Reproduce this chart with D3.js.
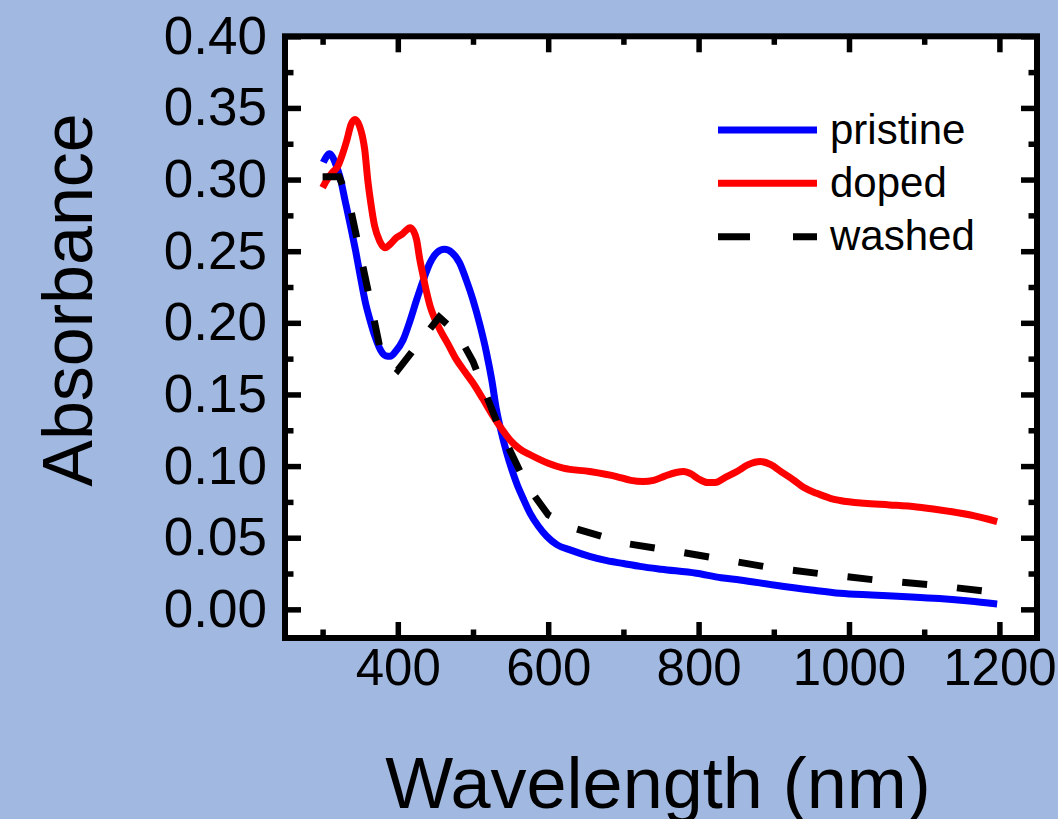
<!DOCTYPE html>
<html>
<head>
<meta charset="utf-8">
<script src="https://cdn.jsdelivr.net/npm/d3@7"></script>
<style>
  html, body { margin: 0; padding: 0; background: #a1b9e1; }
  svg { display: block; }
  text { font-family: "Liberation Sans", Arial, Helvetica, sans-serif; fill: #000; }
</style>
</head>
<body>
<svg id="chart" width="1058" height="819"></svg>
<script>
// UV-Vis-NIR absorbance spectra: wavelength (nm) vs absorbance
const pristineWl = [301, 305, 309, 313, 318, 323, 330, 337, 344, 350, 357, 363, 370, 377, 384, 390, 397, 407, 416, 425, 434, 443, 452, 462, 472, 482, 491, 500, 509, 518, 525, 531, 538, 545, 552, 558, 567, 576, 587, 598, 612, 629, 655, 678, 700, 722, 750, 797, 830, 855, 900, 950, 988, 1030, 1077, 1120, 1160, 1197];
const pristineAbs = [0.312, 0.316, 0.318, 0.316, 0.310, 0.302, 0.285, 0.268, 0.250, 0.233, 0.214, 0.202, 0.190, 0.181, 0.177, 0.1766, 0.180, 0.188, 0.201, 0.216, 0.230, 0.242, 0.249, 0.2513, 0.249, 0.242, 0.230, 0.216, 0.199, 0.179, 0.160, 0.140, 0.123, 0.109, 0.097, 0.088, 0.077, 0.067, 0.058, 0.051, 0.045, 0.0415, 0.037, 0.034, 0.032, 0.030, 0.028, 0.0252, 0.022, 0.0205, 0.017, 0.0135, 0.0112, 0.010, 0.0088, 0.0075, 0.0058, 0.0037];

const dopedWl = [300, 306, 313, 320, 326, 332, 338, 343, 349, 353, 356, 360, 364, 369, 376, 383, 390, 398, 406, 412, 416, 421, 425, 429, 434, 438, 443, 449, 456, 467, 478, 489, 500, 513, 527, 538, 549, 562, 576, 589, 600, 620, 655, 691, 710, 726, 740, 755, 770, 780, 790, 800, 812, 822, 835, 851, 866, 882, 896, 910, 926, 940, 957, 975, 988, 1020, 1054, 1090, 1121, 1160, 1197];
const dopedAbs = [0.2944, 0.300, 0.305, 0.309, 0.317, 0.327, 0.3387, 0.342, 0.3375, 0.330, 0.321, 0.300, 0.284, 0.268, 0.257, 0.2524, 0.255, 0.2594, 0.262, 0.265, 0.2664, 0.264, 0.258, 0.245, 0.232, 0.222, 0.2116, 0.203, 0.1953, 0.185, 0.1743, 0.166, 0.158, 0.147, 0.1347, 0.126, 0.1184, 0.112, 0.1079, 0.1045, 0.102, 0.0986, 0.0962, 0.0927, 0.090, 0.0892, 0.090, 0.093, 0.0955, 0.0962, 0.0945, 0.091, 0.0885, 0.0885, 0.092, 0.0962, 0.101, 0.1032, 0.101, 0.096, 0.0904, 0.085, 0.081, 0.0775, 0.076, 0.074, 0.0729, 0.0715, 0.0694, 0.066, 0.0613];

const washedWl = [300, 322, 335, 362, 378, 400, 455, 480, 500, 535, 571, 600, 631, 702, 770, 836, 886, 960, 1035, 1111, 1200];
const washedAbs = [0.302, 0.302, 0.285, 0.2186, 0.178, 0.167, 0.204, 0.192, 0.173, 0.1265, 0.087, 0.066, 0.0572, 0.0461, 0.0405, 0.0345, 0.030, 0.025, 0.0205, 0.017, 0.0115];

const seriesNames = ["pristine", "doped", "washed"];
const seriesColors = ["#0000ff", "#ff0000", "#000000"];

const xMajorTicks = [400, 600, 800, 1000, 1200];
const xMinorTicks = [300, 500, 700, 900, 1100];
const yMajorTicks = [0.00, 0.05, 0.10, 0.15, 0.20, 0.25, 0.30, 0.35, 0.40];
const yMinorTicks = [0.025, 0.075, 0.125, 0.175, 0.225, 0.275, 0.325, 0.375];

const xTitle = "Wavelength (nm)";
const yTitle = "Absorbance";

// ---- layout ----
const frame = { left: 285, right: 1037, top: 36.3, bottom: 638 };
const svg = d3.select("#chart");

const x = d3.scaleLinear().domain([250, 1250]).range([frame.left, frame.right]);
const y = d3.scaleLinear().domain([-0.02, 0.40]).range([frame.bottom, frame.top]);

// plot background
svg.append("rect")
  .attr("x", frame.left).attr("y", frame.top)
  .attr("width", frame.right - frame.left).attr("height", frame.bottom - frame.top)
  .attr("fill", "#ffffff");

// ---- series ----
const zip = (a, b) => a.map((v, i) => [v, b[i]]);
const smooth = d3.line().x(d => x(d[0])).y(d => y(d[1])).curve(d3.curveMonotoneX);
const straight = d3.line().x(d => x(d[0])).y(d => y(d[1])).curve(d3.curveLinear);

const plot = svg.append("g");
plot.append("path")
  .attr("d", smooth(zip(pristineWl, pristineAbs)))
  .attr("fill", "none").attr("stroke", seriesColors[0])
  .attr("stroke-width", 7).attr("stroke-linejoin", "round");
plot.append("path")
  .attr("d", smooth(zip(dopedWl, dopedAbs)))
  .attr("fill", "none").attr("stroke", seriesColors[1])
  .attr("stroke-width", 7).attr("stroke-linejoin", "round");
plot.append("path")
  .attr("d", straight(zip(washedWl, washedAbs)))
  .attr("fill", "none").attr("stroke", seriesColors[2])
  .attr("stroke-width", 7).attr("stroke-dasharray", "25,30");

// ---- axes (ticks point inward on all four sides) ----
const majorLen = 16, minorLen = 8.5, tickW = 5.5;
function styleAxis(g) {
  g.select(".domain").remove();
  g.selectAll(".tick line").attr("stroke", "#000").attr("stroke-width", tickW);
  g.selectAll("text").style("font-family", "'Liberation Sans', Arial, sans-serif").attr("fill", "#000");
}

svg.append("g").attr("transform", `translate(0,${frame.bottom})`)
  .call(d3.axisBottom(x).tickValues(xMajorTicks).tickSize(-majorLen).tickPadding(11).tickFormat(d3.format("d")))
  .call(styleAxis)
  .call(g => g.selectAll("text").attr("font-size", 51));
svg.append("g").attr("transform", `translate(0,${frame.bottom})`)
  .call(d3.axisBottom(x).tickValues(xMinorTicks).tickSize(-minorLen).tickFormat(""))
  .call(styleAxis);
svg.append("g").attr("transform", `translate(0,${frame.top})`)
  .call(d3.axisTop(x).tickValues(xMajorTicks).tickSize(-majorLen).tickFormat(""))
  .call(styleAxis);
svg.append("g").attr("transform", `translate(0,${frame.top})`)
  .call(d3.axisTop(x).tickValues(xMinorTicks).tickSize(-minorLen).tickFormat(""))
  .call(styleAxis);

svg.append("g").attr("transform", `translate(${frame.left},0)`)
  .call(d3.axisLeft(y).tickValues(yMajorTicks).tickSize(-majorLen).tickPadding(18).tickFormat(d3.format(".2f")))
  .call(styleAxis)
  .call(g => g.selectAll("text").attr("font-size", 53));
svg.append("g").attr("transform", `translate(${frame.left},0)`)
  .call(d3.axisLeft(y).tickValues(yMinorTicks).tickSize(-minorLen).tickFormat(""))
  .call(styleAxis);
svg.append("g").attr("transform", `translate(${frame.right},0)`)
  .call(d3.axisRight(y).tickValues(yMajorTicks).tickSize(-majorLen).tickFormat(""))
  .call(styleAxis);
svg.append("g").attr("transform", `translate(${frame.right},0)`)
  .call(d3.axisRight(y).tickValues(yMinorTicks).tickSize(-minorLen).tickFormat(""))
  .call(styleAxis);

// frame
svg.append("rect")
  .attr("x", frame.left).attr("y", frame.top)
  .attr("width", frame.right - frame.left).attr("height", frame.bottom - frame.top)
  .attr("fill", "none").attr("stroke", "#000").attr("stroke-width", 6);

// ---- axis titles ----
svg.append("text")
  .attr("x", 658).attr("y", 808)
  .attr("text-anchor", "middle").attr("font-size", 72)
  .text(xTitle);
svg.append("text")
  .attr("transform", "translate(92,300) rotate(-90)")
  .attr("text-anchor", "middle").attr("font-size", 70)
  .text(yTitle);

// ---- legend ----
const legend = svg.append("g");
const legendY = [130, 183.3, 236.7];
seriesNames.forEach((name, i) => {
  legend.append("line")
    .attr("x1", 718).attr("x2", 817)
    .attr("y1", legendY[i]).attr("y2", legendY[i])
    .attr("stroke", seriesColors[i]).attr("stroke-width", 7)
    .attr("stroke-dasharray", i === 2 ? "32,43" : null);
  legend.append("text")
    .attr("x", 830).attr("y", legendY[i] + 13.5)
    .attr("font-size", 42)
    .text(name);
});
</script>
</body>
</html>
